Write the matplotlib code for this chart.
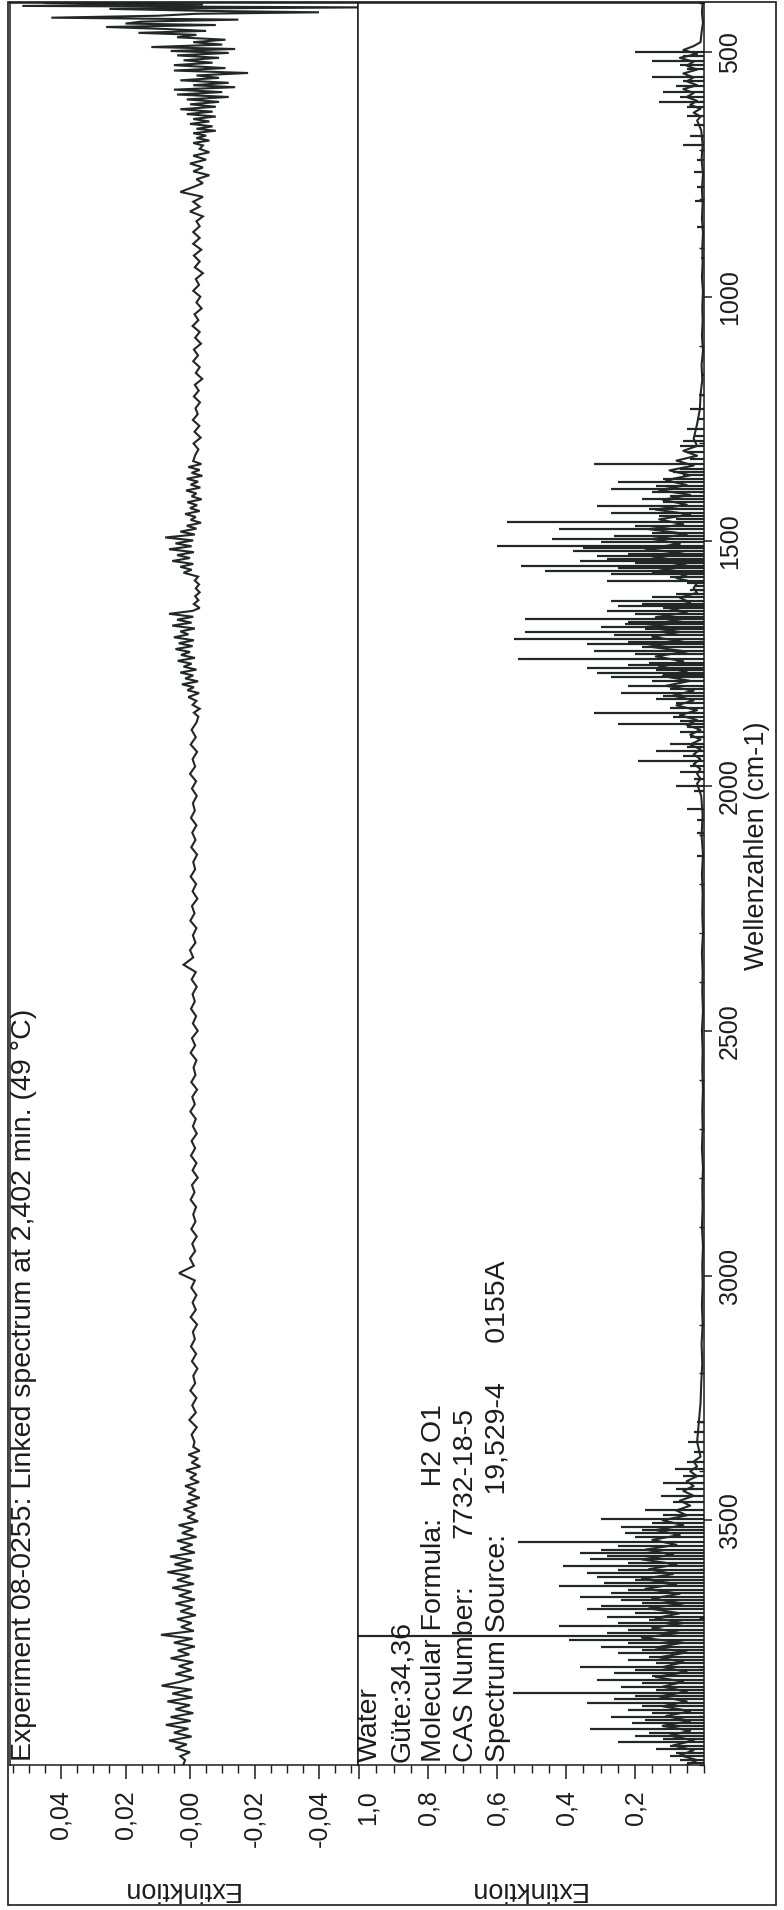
import matplotlib
matplotlib.use("Agg")
import matplotlib.pyplot as plt
from matplotlib.patches import Rectangle
from matplotlib.ticker import MultipleLocator, FixedLocator
from matplotlib.transforms import ScaledTranslation

plt.rcParams['font.family'] = ['Liberation Sans', 'DejaVu Sans']

# ---------------- data ----------------
title = "Experiment 08-0255: Linked spectrum at 2,402 min. (49 °C)"
info_lines = ["Water", "Güte:34,36", "Molecular Formula:    H2 O1",
              "CAS Number:      7732-18-5", "Spectrum Source:     19,529-4     0155A"]
x_label = "Wellenzahlen (cm-1)"
y_label = "Extinktion"

wn_ticks = [500, 1000, 1500, 2000, 2500, 3000, 3500]
wn_tick_labels = ["500", "1000", "1500", "2000", "2500", "3000", "3500"]
top_ticks = [0.04, 0.02, 0.0, -0.02, -0.04]
top_tick_labels = ["0,04", "0,02", "-0,00", "-0,02", "-0,04"]
bot_ticks = [1.0, 0.8, 0.6, 0.4, 0.2]
bot_tick_labels = ["1,0", "0,8", "0,6", "0,4", "0,2"]

# measured (sample) spectrum, upper panel
top_wn_a = [400, 403, 406, 409, 412, 416, 419, 422, 426, 430, 434, 438, 442, 445, 449, 453, 457, 461, 465, 470,
            475, 480, 485, 490, 494, 498, 502, 507, 512, 517, 522, 527, 533, 538, 543, 548, 553, 558, 563, 568,
            572, 577, 582, 587, 592, 597, 602, 607, 612, 617, 622, 627, 632, 637, 642, 647, 652, 657, 661, 666,
            671, 676, 681, 686, 691, 698, 705, 712, 720, 728, 736, 744, 752, 760, 768, 776, 786, 796, 806, 816,
            826, 836, 846, 856, 868, 880, 892]
top_ext_a = [0.045, -0.004, 0.052, -0.055, 0.025, -0.004, -0.040, -0.002, 0.010, 0.043,
             -0.015, 0.015, 0.020, -0.008, 0.026, 0.008, -0.005, 0.016, -0.002, 0.004,
             -0.011, -0.001, -0.010, 0.012, -0.014, 0.006, -0.012, 0.004, -0.009, 0.002,
             -0.007, 0.005, -0.011, 0.005, -0.018, -0.002, -0.009, 0.003, -0.012, -0.001,
             -0.014, 0.005, -0.010, 0.004, -0.012, 0.001, -0.009, 0.000, -0.008, 0.003,
             -0.007, 0.001, -0.008, -0.001, -0.006, 0.000, -0.007, -0.002, -0.008, -0.001,
             -0.005, -0.002, -0.006, -0.001, -0.004, -0.003, -0.006, -0.001, -0.005, 0.000,
             -0.004, -0.001, -0.006, -0.002, -0.004, -0.001, 0.003, -0.004, -0.001, -0.003,
             0.000, -0.004, -0.002, -0.003, -0.001, -0.003, -0.001]

top_wn_b = [904, 916, 928, 940, 952, 964, 976, 988, 1000, 1012, 1024, 1036, 1048, 1060, 1072, 1084, 1096, 1108,
            1120, 1132, 1144, 1156, 1168, 1180, 1192, 1204, 1216, 1228, 1240, 1252, 1264, 1276, 1288, 1300, 1312, 1324]
top_ext_b = [-0.0035, -0.0012, -0.0030, -0.0015, -0.0040, -0.0018, -0.0028, -0.0010, -0.0032, -0.0020,
             -0.0036, -0.0014, -0.0026, -0.0008, -0.0030, -0.0016, -0.0034, -0.0012, -0.0025, -0.0010,
             -0.0030, -0.0018, -0.0038, -0.0015, -0.0027, -0.0012, -0.0031, -0.0017, -0.0024, -0.0009,
             -0.0029, -0.0014, -0.0033, -0.0011, -0.0026, -0.0016]

top_wn_c = [1336, 1342, 1348, 1354, 1360, 1366, 1372, 1378, 1384, 1390,
            1396, 1402, 1408, 1414, 1420, 1426, 1432, 1438, 1444, 1450,
            1456, 1462, 1468, 1474, 1480, 1486, 1492, 1498, 1504, 1510,
            1516, 1522, 1528, 1534, 1540, 1546, 1552, 1558, 1564, 1572,
            1580, 1588, 1596, 1604, 1612, 1620, 1628, 1636, 1642, 1648,
            1654, 1660, 1666, 1672, 1678, 1684, 1690, 1696, 1702, 1708,
            1714, 1720, 1726, 1732, 1738, 1744, 1750, 1756, 1762, 1768,
            1774, 1780, 1786, 1792, 1798, 1804, 1810, 1818, 1826, 1834,
            1842, 1850, 1858]
top_ext_c = [-0.0010, -0.0035, 0.0005, -0.0030, -0.0005, -0.0038, 0.0010, -0.0025, -0.0002, -0.0032,
             0.0012, -0.0020, -0.0005, -0.0036, 0.0008, -0.0022, 0.0000, -0.0030, 0.0015, -0.0018,
             -0.0002, -0.0034, 0.0010, -0.0020, 0.0030, -0.0015, 0.0077, -0.0010, 0.0045, -0.0005,
             0.0065, -0.0012, 0.0040, 0.0000, 0.0055, -0.0010, 0.0030, -0.0005, 0.0020, -0.0025,
             -0.0015, -0.0028, -0.0018, -0.0030, -0.0016, -0.0026, -0.0012, -0.0030, -0.0008, 0.0065,
             -0.0010, 0.0040, -0.0005, 0.0055, -0.0015, 0.0030, 0.0005, 0.0050, -0.0012, 0.0035,
             -0.0008, 0.0045, 0.0000, 0.0028, -0.0015, 0.0038, -0.0005, 0.0020, -0.0020, 0.0030,
             -0.0010, 0.0015, -0.0025, 0.0025, -0.0012, 0.0008, -0.0028, 0.0005, -0.0020, -0.0008,
             -0.0030, -0.0012, -0.0026]

top_wn_d = [1870, 1885, 1900, 1915, 1930, 1945, 1960, 1975, 1990, 2005,
            2020, 2035, 2050, 2065, 2080, 2095, 2110, 2125, 2140, 2155,
            2170, 2185, 2200, 2215, 2230, 2245, 2260, 2275, 2290, 2305,
            2320, 2335, 2350, 2365, 2380, 2395, 2410, 2425, 2440, 2455,
            2470, 2485, 2500, 2515, 2530, 2545, 2560, 2575, 2590, 2605,
            2620, 2635, 2650, 2665, 2680, 2695, 2710, 2725, 2740, 2755,
            2770, 2785, 2800, 2815, 2830, 2845, 2860, 2875, 2890, 2905,
            2920, 2935, 2950, 2965, 2980, 2995, 3010, 3025, 3040, 3055,
            3070, 3085, 3100, 3115, 3130, 3145, 3160, 3175, 3190, 3205,
            3220, 3235, 3250, 3265, 3280, 3295, 3310, 3325, 3340]
top_ext_d = [-0.0020, -0.0005, -0.0018, -0.0002, -0.0022, -0.0008, -0.0016, 0.0000, -0.0019, -0.0006,
             -0.0021, -0.0009, -0.0015, -0.0003, -0.0020, -0.0007, -0.0017, -0.0004, -0.0022, -0.0010,
             -0.0016, -0.0002, -0.0019, -0.0008, -0.0023, -0.0006, -0.0014, -0.0001, -0.0020, -0.0009,
             -0.0017, 0.0000, -0.0010, 0.0020, -0.0018, -0.0005, -0.0021, -0.0008, -0.0015, -0.0003,
             -0.0019, -0.0009, -0.0024, -0.0006, -0.0016, -0.0002, -0.0020, -0.0011, -0.0017, -0.0004,
             -0.0022, -0.0007, -0.0015, -0.0001, -0.0018, -0.0009, -0.0021, -0.0005, -0.0016, -0.0003,
             -0.0020, -0.0008, -0.0024, -0.0006, -0.0014, -0.0002, -0.0019, -0.0010, -0.0017, -0.0004,
             -0.0021, -0.0007, -0.0016, 0.0000, -0.0012, 0.0034, -0.0015, -0.0004, -0.0020, -0.0008,
             -0.0018, -0.0002, -0.0022, -0.0009, -0.0015, -0.0003, -0.0019, -0.0006, -0.0023, -0.0010,
             -0.0016, -0.0001, -0.0020, -0.0007, -0.0018, 0.0002, -0.0021, -0.0005, -0.0014]

top_wn_e = [3350, 3358, 3366, 3374, 3382, 3390, 3398, 3406, 3414, 3422,
            3430, 3438, 3446, 3454, 3462, 3470, 3478, 3486, 3494, 3502,
            3510, 3518, 3526, 3534, 3542, 3550, 3558, 3566, 3574, 3582,
            3590, 3598, 3606, 3614, 3622, 3630, 3638, 3646, 3654, 3662,
            3670, 3678, 3686, 3694, 3702, 3710, 3718, 3726, 3734, 3742,
            3750, 3758, 3766, 3774, 3782, 3790, 3798, 3806, 3814, 3822,
            3830, 3838, 3846, 3854, 3862, 3870, 3878, 3886, 3894, 3902,
            3910, 3918, 3926, 3934, 3942, 3950, 3958, 3966, 3974, 3982,
            3990, 3998]
top_ext_e = [-0.0010, -0.0030, 0.0005, -0.0025, -0.0005, -0.0032, 0.0012, -0.0020, 0.0000, -0.0028,
             0.0015, -0.0018, 0.0005, -0.0030, 0.0010, -0.0022, 0.0020, -0.0015, 0.0008, -0.0025,
             0.0035, -0.0010, 0.0025, -0.0020, 0.0040, -0.0008, 0.0030, -0.0015, 0.0062, -0.0005,
             0.0048, -0.0010, 0.0070, 0.0000, 0.0040, -0.0012, 0.0055, -0.0005, 0.0035, -0.0015,
             0.0045, -0.0008, 0.0030, -0.0018, 0.0040, -0.0005, 0.0028, -0.0012, 0.0090, -0.0008,
             0.0050, -0.0015, 0.0038, 0.0002, 0.0060, -0.0010, 0.0035, -0.0005, 0.0045, -0.0012,
             0.0030, 0.0088, -0.0005, 0.0055, -0.0008, 0.0070, 0.0000, 0.0045, -0.0010, 0.0060,
             -0.0002, 0.0075, 0.0005, 0.0050, -0.0005, 0.0065, 0.0010, 0.0045, 0.0000, 0.0030,
             0.0015, 0.0020]

# library spectrum (Water), lower panel: dense base trace
bot_base_wn = [400, 420, 440, 460, 480,
               488, 496, 504, 512, 520, 528, 536, 544, 552, 560, 568, 576, 584, 592, 600, 608, 616, 624, 632, 640,
               660, 690, 720, 750, 780, 810, 840, 870, 900, 930, 960, 990, 1020, 1050, 1080, 1110, 1140, 1170,
               1200, 1230, 1260, 1290,
               1305, 1315, 1325, 1335, 1345, 1355, 1365, 1375, 1385, 1395,
               1405, 1415, 1425, 1435, 1445, 1455, 1465, 1475, 1485, 1495,
               1505, 1515, 1525, 1535, 1545, 1555, 1565, 1575, 1585, 1595,
               1605, 1615, 1625, 1635, 1645, 1655, 1665, 1675, 1685, 1695,
               1705, 1715, 1725, 1735, 1745, 1755, 1765, 1775, 1785, 1795,
               1805, 1815, 1825, 1835, 1845, 1855, 1865, 1875, 1885, 1895,
               1905, 1915, 1925, 1935, 1945, 1955, 1965, 1975, 1985, 1995,
               2020, 2060, 2100, 2140, 2180, 2220, 2260, 2300, 2340, 2380,
               2420, 2460, 2500, 2540, 2580, 2620, 2660, 2700, 2740, 2780,
               2820, 2860, 2900, 2940, 2980, 3020, 3060, 3100, 3140, 3180,
               3220, 3260, 3300, 3340,
               3370, 3380, 3390, 3400, 3410, 3420, 3430, 3440, 3450, 3460,
               3470, 3480, 3490, 3500, 3510, 3520, 3530, 3540, 3550, 3560,
               3570, 3580, 3590, 3600, 3610, 3620, 3630, 3640, 3650, 3660,
               3670, 3680, 3690, 3700, 3710, 3720, 3730, 3740, 3750, 3760,
               3770, 3780, 3790, 3800, 3810, 3820, 3830, 3840, 3850, 3860,
               3870, 3880, 3890, 3900, 3910, 3920, 3930, 3940, 3950, 3960,
               3970, 3980, 3990, 4000]
bot_base_ext = [0.004, 0.006, 0.003, 0.007, 0.010,
                0.03, 0.06, 0.02, 0.07, 0.03, 0.05, 0.02, 0.06, 0.03, 0.05, 0.02, 0.06, 0.03, 0.05, 0.02, 0.04,
                0.01, 0.03, 0.01, 0.02,
                0.008, 0.004, 0.007, 0.003, 0.006, 0.004, 0.006, 0.003, 0.005, 0.004, 0.006, 0.003, 0.005,
                0.004, 0.006, 0.003, 0.007, 0.005, 0.010, 0.012, 0.020, 0.030,
                0.02, 0.06, 0.02, 0.08, 0.03, 0.10, 0.04, 0.11, 0.05, 0.13,
                0.04, 0.12, 0.05, 0.14, 0.04, 0.13, 0.06, 0.16, 0.05, 0.15,
                0.07, 0.17, 0.06, 0.15, 0.05, 0.13, 0.04, 0.08, 0.02, 0.03,
                0.02, 0.07, 0.04, 0.11, 0.05, 0.14, 0.06, 0.17, 0.07, 0.15,
                0.06, 0.16, 0.05, 0.14, 0.06, 0.13, 0.05, 0.12, 0.04, 0.11,
                0.03, 0.09, 0.03, 0.08, 0.02, 0.07, 0.02, 0.05, 0.01, 0.04,
                0.01, 0.04, 0.01, 0.03, 0.01, 0.03, 0.01, 0.02, 0.01, 0.02,
                0.008, 0.004, 0.007, 0.003, 0.006, 0.004, 0.005, 0.003, 0.006, 0.004,
                0.005, 0.003, 0.006, 0.004, 0.005, 0.003, 0.005, 0.004, 0.006, 0.003,
                0.005, 0.004, 0.006, 0.003, 0.005, 0.004, 0.006, 0.004, 0.007, 0.005,
                0.008, 0.010, 0.015, 0.020,
                0.01, 0.03, 0.02, 0.04, 0.02, 0.05, 0.03, 0.06, 0.03, 0.07,
                0.04, 0.08, 0.05, 0.12, 0.06, 0.14, 0.07, 0.15, 0.08, 0.17,
                0.09, 0.18, 0.08, 0.16, 0.09, 0.18, 0.08, 0.17, 0.07, 0.15,
                0.06, 0.16, 0.07, 0.14, 0.06, 0.15, 0.07, 0.18, 0.06, 0.14,
                0.05, 0.13, 0.06, 0.12, 0.05, 0.14, 0.06, 0.12, 0.05, 0.13,
                0.05, 0.12, 0.04, 0.11, 0.04, 0.12, 0.04, 0.10, 0.03, 0.09,
                0.03, 0.07, 0.02, 0.05]

# library spectrum (Water): individual absorption lines
bot_peak_wn = [500, 508, 518, 526, 535, 552, 560, 570, 582, 592, 603, 612, 630, 650, 671, 691, 720, 746, 775, 804,
               858, 920, 1160, 1200, 1230, 1250, 1270, 1285, 1295, 1305,
               1318, 1331, 1342, 1352, 1359, 1364, 1372, 1379, 1386, 1393, 1400, 1407, 1414, 1420, 1427, 1434,
               1441, 1448, 1455, 1461, 1468, 1475, 1482, 1488, 1495, 1502, 1509, 1514, 1519, 1526, 1530, 1535,
               1540, 1545, 1550, 1555, 1560, 1564, 1567, 1573, 1580, 1586, 1592, 1600, 1607, 1614, 1621, 1627,
               1632, 1637, 1642, 1648, 1654, 1659, 1664, 1669, 1675, 1680, 1686, 1692, 1700, 1705, 1710, 1716,
               1724, 1730, 1741, 1748, 1752, 1758, 1763, 1768, 1773, 1778, 1785, 1795, 1802, 1809, 1815, 1822,
               1830, 1840, 1850, 1858, 1866, 1873, 1880, 1890, 1900, 1914, 1921, 1928, 1938, 1948, 1958, 1972,
               1985, 1999, 2010, 2047, 2070, 2095, 2143,
               3300, 3320, 3341, 3360, 3380, 3396, 3410, 3423, 3437, 3451, 3463, 3478, 3490, 3498, 3505, 3513,
               3520, 3526, 3535, 3545, 3553, 3560, 3566, 3573, 3580, 3588, 3594, 3602, 3608, 3615, 3622, 3628,
               3635, 3642, 3649, 3656, 3663, 3670, 3676, 3682, 3690, 3697, 3704, 3710, 3717, 3724, 3730, 3737,
               3744, 3751, 3758, 3765, 3772, 3780, 3786, 3792, 3799, 3806, 3813, 3819, 3826, 3833, 3840, 3846,
               3853, 3860, 3866, 3873, 3880, 3887, 3894, 3901, 3908, 3914, 3920, 3927, 3934, 3940, 3947, 3954,
               3961, 3968, 3975, 3982, 3990, 3996]
bot_peak_ext = [0.20, 0.06, 0.15, 0.07, 0.05, 0.15, 0.06, 0.08, 0.12, 0.07, 0.13, 0.05, 0.05, 0.03, 0.04, 0.06, 0.02,
                0.03, 0.02, 0.025, 0.02, 0.01, 0.01, 0.015, 0.04, 0.02, 0.05, 0.03, 0.06, 0.07,
                0.05, 0.04, 0.32, 0.07, 0.09, 0.06, 0.12, 0.25, 0.14, 0.27, 0.15, 0.10, 0.18, 0.12, 0.31, 0.16,
                0.27, 0.13, 0.08, 0.57, 0.20, 0.42, 0.15, 0.26, 0.44, 0.30, 0.60, 0.35, 0.38, 0.22, 0.31, 0.28,
                0.36, 0.20, 0.53, 0.25, 0.46, 0.15, 0.27, 0.10, 0.28, 0.05, 0.03, 0.04, 0.08, 0.15, 0.27, 0.18,
                0.25, 0.12, 0.28, 0.20, 0.14, 0.52, 0.22, 0.23, 0.30, 0.17, 0.52, 0.26, 0.55, 0.22, 0.34, 0.18,
                0.32, 0.20, 0.54, 0.16, 0.22, 0.34, 0.14, 0.31, 0.12, 0.27, 0.15, 0.22, 0.10, 0.24, 0.12, 0.14,
                0.08, 0.10, 0.32, 0.09, 0.07, 0.25, 0.05, 0.07, 0.04, 0.10, 0.05, 0.14, 0.06, 0.19, 0.04, 0.07,
                0.03, 0.08, 0.03, 0.05, 0.02, 0.02, 0.02,
                0.02, 0.03, 0.045, 0.03, 0.05, 0.085, 0.06, 0.12, 0.08, 0.125, 0.09, 0.17, 0.12, 0.30, 0.15, 0.24,
                0.18, 0.23, 0.20, 0.54, 0.25, 0.30, 0.36, 0.28, 0.33, 0.22, 0.41, 0.25, 0.34, 0.31, 0.20, 0.29,
                0.42, 0.22, 0.27, 0.36, 0.24, 0.18, 0.30, 0.34, 0.20, 0.28, 0.16, 0.25, 0.42, 0.22, 0.28, 1.05,
                0.39, 0.22, 0.30, 0.18, 0.25, 0.16, 0.22, 0.14, 0.36, 0.20, 0.26, 0.15, 0.31, 0.18, 0.24, 0.14,
                0.555, 0.20, 0.26, 0.34, 0.18, 0.22, 0.15, 0.27, 0.17, 0.21, 0.12, 0.33, 0.16, 0.20, 0.12, 0.25,
                0.10, 0.14, 0.08, 0.10, 0.07, 0.05]

top_wn = top_wn_a + top_wn_b + top_wn_c + top_wn_d + top_wn_e
top_ext = top_ext_a + top_ext_b + top_ext_c + top_ext_d + top_ext_e

# ---------------- figure ----------------
W, H = 784, 1910
fig = plt.figure(figsize=(W / 100, H / 100), dpi=100)
fig.patch.set_facecolor('white')

def fx(px):
    return px / W

def fy(py):
    return 1 - py / H

ink = '#1c1c1c'
line_col = '#222826'

ax_top, ax_bottom_px = 3, 1765
left_px, mid_px, right_px = 10, 358, 704

ax1 = fig.add_axes([fx(left_px), fy(ax_bottom_px), fx(mid_px - left_px), (ax_bottom_px - ax_top) / H])
ax2 = fig.add_axes([fx(mid_px), fy(ax_bottom_px), fx(right_px - mid_px), (ax_bottom_px - ax_top) / H])

for ax in (ax1, ax2):
    ax.set_ylim(4000, 400)
    for s in ax.spines.values():
        s.set_linewidth(1.1)
        s.set_color(ink)

ax1.set_xlim((190 - left_px) / 3225, (190 - mid_px) / 3225)
ax2.set_xlim(1.003, 0.0)

ax1.plot(top_ext, top_wn, color=line_col, lw=1.5, solid_joinstyle='miter')
ax2.plot(bot_base_ext, bot_base_wn, color=line_col, lw=1.5)
ax2.hlines(bot_peak_wn, 0.0, bot_peak_ext, color=line_col, lw=1.6)

# extinction ticks (bottom, labels rotated)
ax1.xaxis.set_major_locator(FixedLocator(top_ticks))
ax1.set_xticklabels(top_tick_labels)
ax1.xaxis.set_minor_locator(MultipleLocator(0.005))
ax2.xaxis.set_major_locator(FixedLocator(bot_ticks))
ax2.set_xticklabels(bot_tick_labels)
ax2.xaxis.set_minor_locator(MultipleLocator(0.05))
for ax in (ax1, ax2):
    ax.tick_params(axis='x', which='major', direction='out', length=10, width=1.1,
                   pad=8, labelsize=18, labelrotation=90, colors=ink)
    ax.tick_params(axis='x', which='minor', direction='out', length=5.5, width=1.0, colors=ink)

# shift the "1,0" label slightly right, as in the print
lbl10 = ax2.get_xticklabels()[0]
lbl10.set_transform(lbl10.get_transform() + ScaledTranslation(0.09, 0, fig.dpi_scale_trans))

ax1.set_yticks([])

# wavenumber axis (right side)
ax2.yaxis.set_major_locator(FixedLocator(wn_ticks))
ax2.set_yticklabels(wn_tick_labels)
ax2.yaxis.set_minor_locator(MultipleLocator(100))
ax2.tick_params(axis='y', which='both', left=False, right=True, labelleft=False, labelright=True)
ax2.tick_params(axis='y', which='major', direction='out', length=6, width=1.1, pad=4,
                labelsize=18, colors=ink)
ax2.tick_params(axis='y', which='minor', direction='in', length=3.5, width=1.0, colors=ink)
for lbl in ax2.get_yticklabels():
    lbl.set_rotation(90)
    lbl.set_va('center')

# texts
fig.text(fx(11), fy(1761), title, rotation=90, ha='left', va='bottom', fontsize=20.5, color=ink)
info_x = [357, 389, 421, 453, 485]
for xx, t in zip(info_x, info_lines):
    fig.text(fx(xx), fy(1762), t, rotation=90, ha='left', va='bottom', fontsize=20.5, color=ink)

fig.text(fx(757), fy(846), x_label, rotation=90, ha='center', va='center', fontsize=19.5, color=ink)
fig.text(fx(180), fy(1889), y_label, rotation=180, ha='center', va='center', fontsize=19.5, color=ink)
fig.text(fx(527), fy(1889), y_label, rotation=180, ha='center', va='center', fontsize=19.5, color=ink)

# outer frame
fig.add_artist(Rectangle((fx(8), fy(1905)), fx(776 - 8), (1905 - 2) / H, transform=fig.transFigure,
                         fill=False, lw=1.2, edgecolor=ink))

fig.savefig("out.png", dpi=100)
